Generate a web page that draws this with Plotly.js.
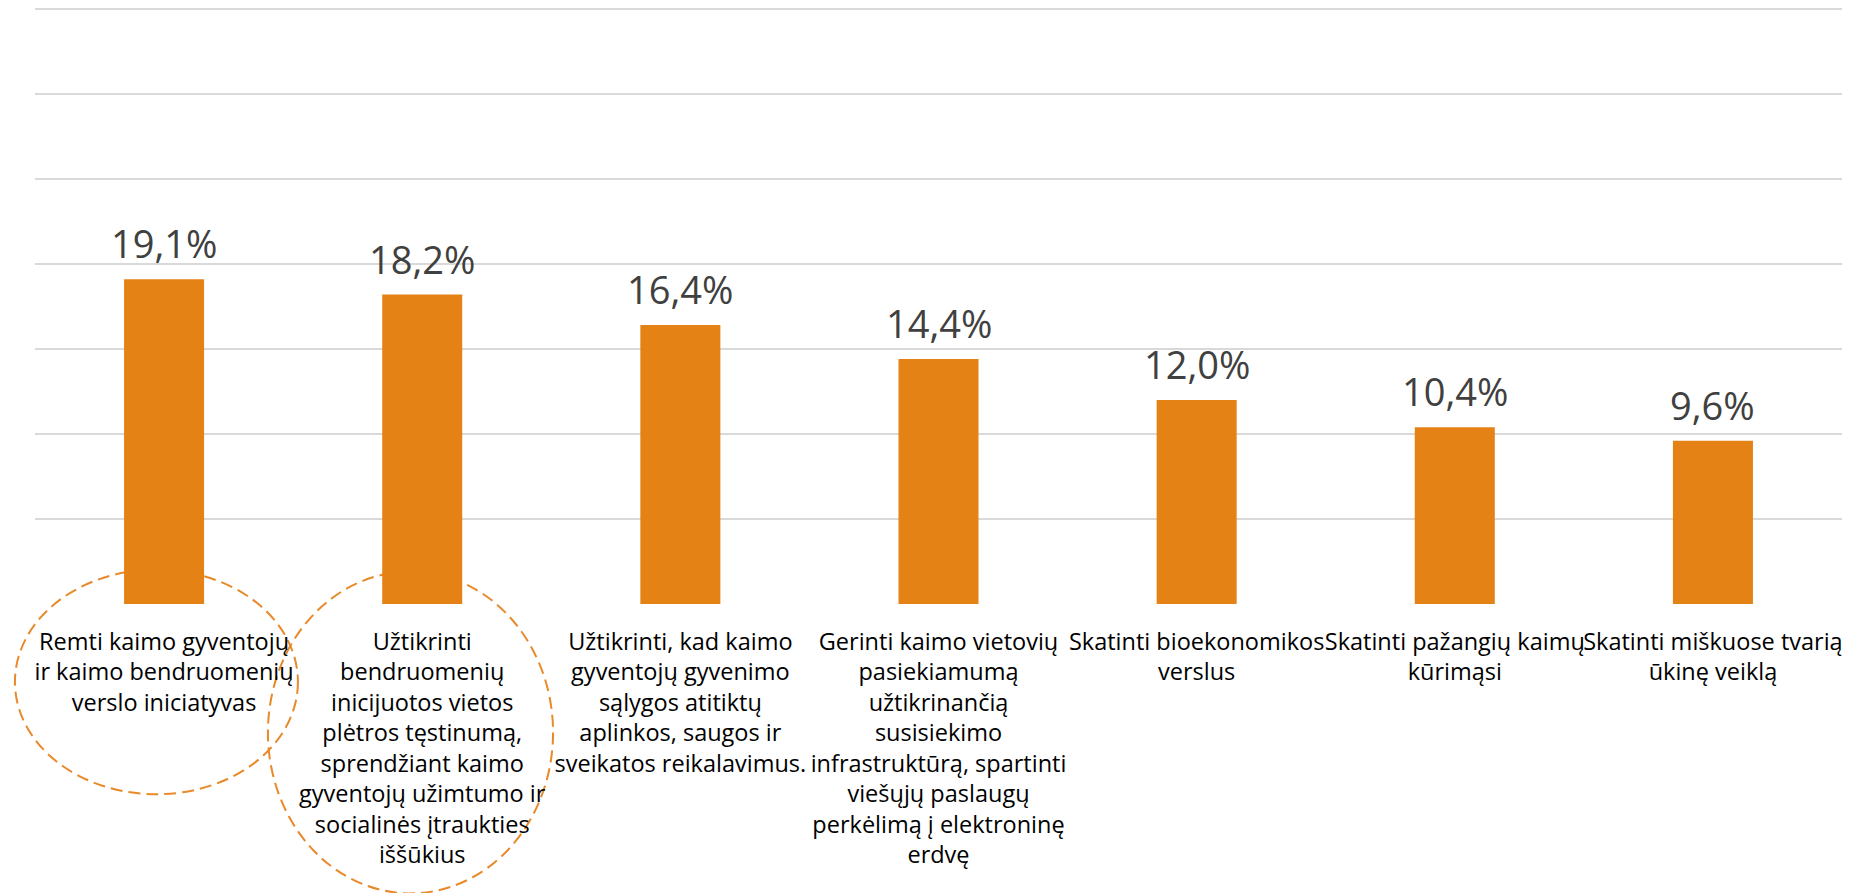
<!DOCTYPE html>
<html>
<head>
<meta charset="utf-8">
<script src="https://cdn.plot.ly/plotly-3.0.1.min.js"></script>
<style>
  html, body { margin: 0; padding: 0; background: #ffffff; }
  #chart { width: 1857px; height: 893px; }
</style>
</head>
<body>
<div id="chart"></div>
<script>
// ---- data ----
const categories = ["c1", "c2", "c3", "c4", "c5", "c6", "c7"];
const values = [19.1, 18.2, 16.4, 14.4, 12.0, 10.4, 9.6];
const tickLabels = [
  "Remti kaimo gyventojų<br>ir kaimo bendruomenių<br>verslo iniciatyvas",
  "Užtikrinti<br>bendruomenių<br>inicijuotos vietos<br>plėtros tęstinumą,<br>sprendžiant kaimo<br>gyventojų užimtumo ir<br>socialinės įtraukties<br>iššūkius",
  "Užtikrinti, kad kaimo<br>gyventojų gyvenimo<br>sąlygos atitiktų<br>aplinkos, saugos ir<br>sveikatos reikalavimus.",
  "Gerinti kaimo vietovių<br>pasiekiamumą<br>užtikrinančią<br>susisiekimo<br>infrastruktūrą, spartinti<br>viešųjų paslaugų<br>perkėlimą į elektroninę<br>erdvę",
  "Skatinti bioekonomikos<br>verslus",
  "Skatinti pažangių kaimų<br>kūrimąsi",
  "Skatinti miškuose tvarią<br>ūkinę veiklą"
];
const valueLabels = values.map(v => v.toFixed(1).replace('.', ',') + '%');

// ---- styles ----
const barColor = '#E48216';
const ringColor = '#E8892A';
const font = "'Open Sans', sans-serif";

const trace = {
  type: 'bar',
  x: categories,
  y: values,
  marker: { color: barColor },
  width: 0.31,
  hoverinfo: 'none'
};

const annotations = categories.map((c, i) => ({
  x: c, y: values[i], xref: 'x', yref: 'y',
  text: valueLabels[i],
  showarrow: false,
  yanchor: 'bottom',
  yshift: 8,
  font: { family: font, size: 38, color: '#404040' }
}));

const ring = { color: ringColor, width: 2, dash: '12px,6px' };
const shapes = [
  { type: 'circle', xref: 'paper', yref: 'paper', x0: -0.0111, x1: 0.1455, y0: -0.316, y1: 0.0571, line: ring, layer: 'below' },
  { type: 'circle', xref: 'paper', yref: 'paper', x0: 0.1289, x1: 0.2867, y0: -0.4807, y1: 0.0538, line: ring, layer: 'below' }
];

const layout = {
  width: 1857,
  height: 893,
  margin: { l: 35, r: 15, t: 2, b: 289 },
  paper_bgcolor: '#ffffff',
  plot_bgcolor: '#ffffff',
  showlegend: false,
  bargap: 0.69,
  font: { family: font, color: '#000000' },
  xaxis: {
    type: 'category',
    tickvals: categories,
    ticktext: tickLabels,
    tickangle: 0,
    ticks: '',
    showline: false,
    showgrid: false,
    zeroline: false,
    tickfont: { family: font, size: 23.5, color: '#000000' },
    ticklabelstandoff: 21
  },
  yaxis: {
    range: [0, 35.4],
    dtick: 5,
    tick0: 0,
    showticklabels: false,
    ticks: '',
    showgrid: true,
    gridcolor: '#D9D9D9',
    gridwidth: 1.5,
    zeroline: false,
    showline: false
  },
  annotations: annotations,
  shapes: shapes
};

Plotly.newPlot('chart', [trace], layout, { displayModeBar: false, staticPlot: true });
</script>
</body>
</html>
